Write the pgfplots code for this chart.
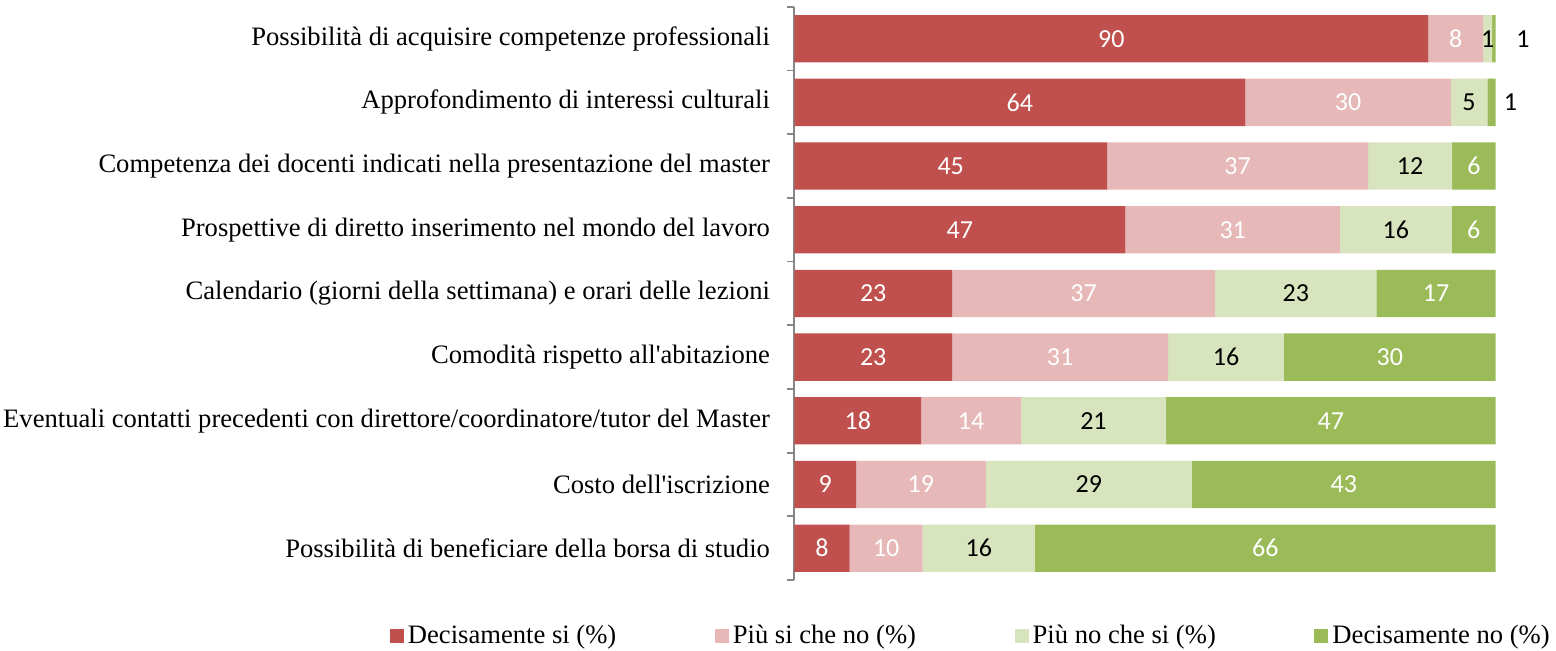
\documentclass[border=0pt]{standalone}
\usepackage{pgfplots}
\pgfplotsset{compat=1.18}
\usepackage{pgfplotstable}
\usepackage{fontspec}
\setmainfont{Liberation Serif}[Ligatures=TeXOff]
\newfontfamily\calibri{Carlito}
\definecolor{c1}{HTML}{C0504D}
\definecolor{c2}{HTML}{E6B9B8}
\definecolor{c3}{HTML}{D7E4BD}
\definecolor{c4}{HTML}{9BBB59}
\definecolor{axgray}{HTML}{868686}

% values (a,b,c,d), displayed labels (la..ld), label centres (ma..md)
\pgfplotstableread[col sep=comma]{
pos,a,b,c,d,la,lb,lc,ld,ma,mb,mc,md
0,90.4,7.8,1.3,0.5,90,8,1,\textcolor{black}{1},45.2,94.3,98.85,103.9
1,64.3,29.3,5.2,1.2,64,30,5,\textcolor{black}{1},32.15,78.95,96.2,102.1
2,44.6,37.2,12.0,6.2,45,37,12,6,22.3,63.2,87.8,96.9
3,47.2,30.6,15.9,6.3,47,31,16,6,23.6,62.5,85.75,96.85
4,22.5,37.5,23.0,17.0,23,37,23,17,11.25,41.25,71.5,91.5
5,22.5,30.8,16.5,30.2,23,31,16,30,11.25,37.9,61.55,84.9
6,18.1,14.2,20.7,47.0,18,14,21,47,9.05,25.2,42.65,76.5
7,8.8,18.5,29.4,43.3,9,19,29,43,4.4,18.05,42.0,78.35
8,7.9,10.4,16.0,65.7,8,10,16,66,3.95,13.1,26.3,67.15
}\data

\pgfplotsset{
  common/.style={
    at={(0pt,0pt)}, anchor=south west,
    scale only axis, width=350.7pt, height=286.6pt,
    xmin=0, xmax=100, ymin=-0.5, ymax=8.5, y dir=reverse,
    clip=false,
  },
  lbl/.style={draw=none, mark=none, forget plot,
    nodes near coords, point meta=explicit symbolic,
    nodes near coords align=center,
    every node near coord/.append style={anchor=center, text=#1,
      font=\calibri\fontsize{13pt}{15pt}\selectfont}},
}

\begin{document}
\begin{tikzpicture}
\path[use as bounding box] (-397.15pt,-35pt) rectangle (380.85pt,290pt);
\begin{axis}[
  common,
  xbar stacked, bar width=23.65pt, bar shift=0pt,
  axis x line=none, axis y line*=left,
  axis line style={axgray, line width=0.9pt},
  ytick={0,...,8},
  yticklabels={
    {Possibilità di acquisire competenze professionali},
    {Approfondimento di interessi culturali},
    {Competenza dei docenti indicati nella presentazione del master},
    {Prospettive di diretto inserimento nel mondo del lavoro},
    {Calendario (giorni della settimana) e orari delle lezioni},
    {Comodità rispetto all'abitazione},
    {Eventuali contatti precedenti con direttore/coordinatore/tutor del Master},
    {Costo dell'iscrizione},
    {Possibilità di beneficiare della borsa di studio}},
  minor ytick={-0.5,0.5,...,8.5},
  major tick length=0pt, minor tick length=3.5pt, tick align=outside,
  minor tick style={axgray, line width=0.9pt},
  yticklabel style={font=\fontsize{13.3pt}{16pt}\selectfont, anchor=east, inner sep=0pt, xshift=-12pt},
  legend columns=4, legend cell align=left,
  legend style={draw=none, at={(-0.577,-0.0977)}, anchor=west, inner sep=0pt,
    font=\fontsize{13.3pt}{16pt}\selectfont,
    /tikz/every even column/.append style={column sep=47.3pt}},
]
\addplot[fill=c1, draw=none,
  legend image code/.code={\fill[c1] (0pt,-3.5pt) rectangle (7pt,3.5pt);}]
  table[x=a, y=pos]{\data};
\addlegendentry{Decisamente si (\%)}
\addplot[fill=c2, draw=none,
  legend image code/.code={\fill[c2] (0pt,-3.5pt) rectangle (7pt,3.5pt);}]
  table[x=b, y=pos]{\data};
\addlegendentry{Più si che no (\%)}
\addplot[fill=c3, draw=none,
  legend image code/.code={\fill[c3] (0pt,-3.5pt) rectangle (7pt,3.5pt);}]
  table[x=c, y=pos]{\data};
\addlegendentry{Più no che si (\%)}
\addplot[fill=c4, draw=none,
  legend image code/.code={\fill[c4] (0pt,-3.5pt) rectangle (7pt,3.5pt);}]
  table[x=d, y=pos]{\data};
\addlegendentry{Decisamente no (\%)}
\end{axis}
\begin{axis}[common, hide axis]
\addplot[lbl=white] table[x=ma, y=pos, meta=la]{\data};
\addplot[lbl=white] table[x=mb, y=pos, meta=lb]{\data};
\addplot[lbl=black] table[x=mc, y=pos, meta=lc]{\data};
\addplot[lbl=white] table[x=md, y=pos, meta=ld]{\data};
\end{axis}
\end{tikzpicture}
\end{document}
